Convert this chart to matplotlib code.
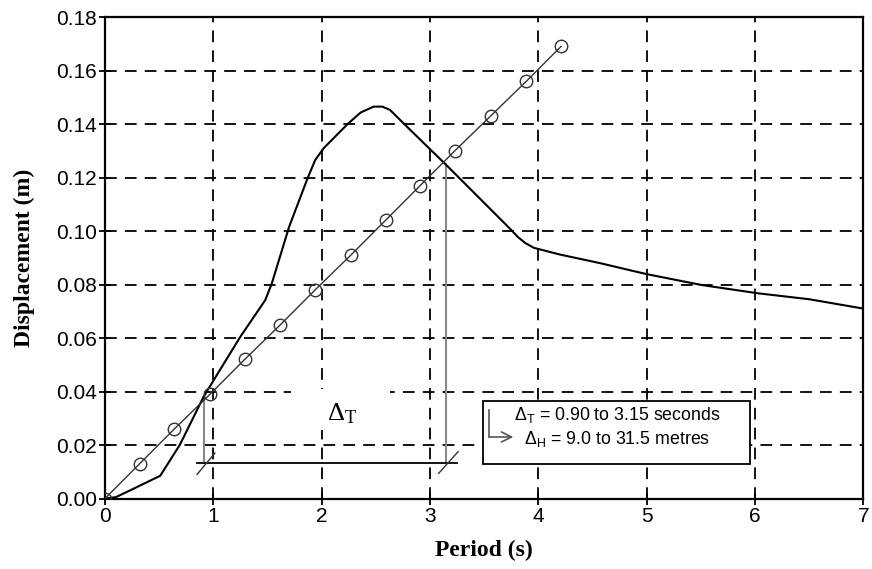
import matplotlib.pyplot as plt
from matplotlib.patches import Rectangle

plt.rcParams['mathtext.fontset'] = 'custom'
plt.rcParams['mathtext.rm'] = 'Liberation Serif'
plt.rcParams['mathtext.sf'] = 'Liberation Sans'

# displacement spectrum (period in s, displacement in m)
spectrum_period = [0.0, 0.1, 0.23, 0.51, 0.69, 0.91, 1.03, 1.25, 1.48, 1.54, 1.70, 1.87,
                   1.94, 2.02, 2.24, 2.36, 2.48, 2.56, 2.63, 2.70, 2.80, 3.15, 3.75, 3.81,
                   3.88, 3.96, 4.20, 4.58, 4.86, 5.01, 5.51, 6.03, 6.50, 7.0]
spectrum_disp = [0.0, 0.0005, 0.003, 0.0085, 0.020, 0.038, 0.046, 0.0605, 0.0742, 0.0804,
                 0.1016, 0.1197, 0.1265, 0.131, 0.140, 0.1443, 0.1465, 0.1465, 0.1453, 0.1425,
                 0.1385, 0.1247, 0.1004, 0.0978, 0.0955, 0.0937, 0.0912, 0.0879, 0.0852,
                 0.0838, 0.0798, 0.0767, 0.0745, 0.071]

# building displacement line with markers
build_period = [0.0, 0.32, 0.64, 0.97, 1.29, 1.62, 1.94, 2.27, 2.59, 2.91, 3.23, 3.56, 3.89, 4.21]
build_disp = [0.0, 0.013, 0.026, 0.039, 0.052, 0.065, 0.078, 0.091, 0.104, 0.117, 0.130,
              0.143, 0.156, 0.169]

# intersections / period range
t_low, d_low = 0.91, 0.0385
t_high, d_high = 3.15, 0.125
range_y = 0.0132

x_ticks = [0, 1, 2, 3, 4, 5, 6, 7]
y_ticks = [0.00, 0.02, 0.04, 0.06, 0.08, 0.10, 0.12, 0.14, 0.16, 0.18]

fig = plt.figure(figsize=(8.72, 5.69), dpi=100)
ax = fig.add_axes([0.1204, 0.1239, 0.8696, 0.8462])

ax.set_xlim(0, 7)
ax.set_ylim(0, 0.18)
ax.set_xticks(x_ticks)
ax.set_yticks(y_ticks)
ax.set_xticklabels([str(t) for t in x_ticks], fontfamily='Liberation Sans', fontsize=15)
ax.set_yticklabels(['%.2f' % t for t in y_ticks], fontfamily='Liberation Sans', fontsize=15)
ax.tick_params(direction='inout', length=8, width=1.3, pad=2)

ax.set_axisbelow(True)
ax.grid(True, color='black', linestyle=(0, (6.5, 4.5)), linewidth=1.3)
for s in ax.spines.values():
    s.set_linewidth(1.6)

# white patch behind the delta T label
ax.add_patch(Rectangle((1.72, 0.0255), 0.91, 0.0155, facecolor='white', edgecolor='none', zorder=1))

ax.plot(spectrum_period, spectrum_disp, color='black', linewidth=1.5, zorder=3)
ax.plot(build_period, build_disp, color='#333333', linewidth=1.0, marker='o', markersize=9,
        markerfacecolor='none', markeredgecolor='#333333', markeredgewidth=1.0, zorder=3)

# period range markers
ax.plot([t_low, t_low], [range_y, d_low], color='#888888', linewidth=1.5, zorder=2)
ax.plot([t_high, t_high], [range_y, d_high], color='#888888', linewidth=1.5, zorder=2)
ax.plot([0.85, 3.25], [range_y, range_y], color='black', linewidth=1.3, zorder=2)
ax.plot([0.85, 1.015], [0.009, 0.017], color='#333333', linewidth=1.0, zorder=2)
ax.plot([3.08, 3.26], [0.0094, 0.0175], color='#333333', linewidth=1.0, zorder=2)

ax.text(2.19, 0.0318, r'$\mathrm{\Delta_T}$', fontsize=19, ha='center', va='center', zorder=4)

# annotation box
ax.add_patch(Rectangle((3.49, 0.0128), 2.46, 0.0238, facecolor='white', edgecolor='black',
                       linewidth=1.3, zorder=4))
ax.text(4.73, 0.0312, r'$\mathsf{\Delta_T}$ = 0.90 to 3.15 seconds', fontfamily='Liberation Sans',
        fontsize=12.8, ha='center', va='center', zorder=5)
ax.text(4.73, 0.0222, r'$\mathsf{\Delta_H}$ = 9.0 to 31.5 metres', fontfamily='Liberation Sans',
        fontsize=12.8, ha='center', va='center', zorder=5)
ax.plot([3.546, 3.546], [0.0331, 0.023], color='#555555', linewidth=1.2, zorder=5)
ax.annotate('', xy=(3.77, 0.023), xytext=(3.546, 0.023),
            arrowprops=dict(arrowstyle='->', color='#555555', linewidth=1.2,
                            shrinkA=0, shrinkB=0, mutation_scale=18), zorder=5)

ax.set_xlabel('Period (s)', fontfamily='Liberation Serif', fontweight='bold', fontsize=17, labelpad=10)
ax.set_ylabel('Displacement (m)', fontfamily='Liberation Serif', fontweight='bold', fontsize=17, labelpad=15)

fig.savefig('out.png', dpi=100)
